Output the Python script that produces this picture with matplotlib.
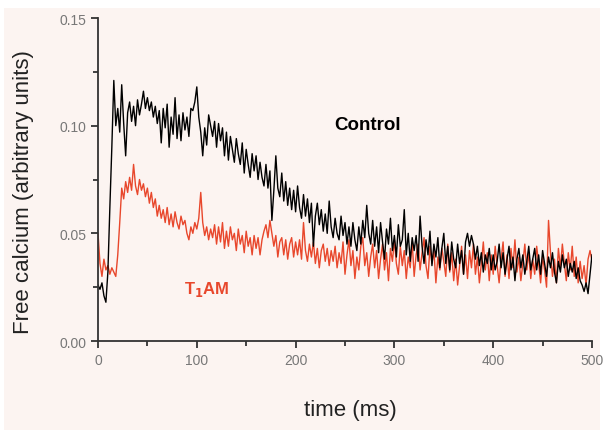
import numpy as np
import matplotlib.pyplot as plt
from matplotlib.patches import Rectangle
from matplotlib.ticker import MultipleLocator

# free calcium traces, sampled every 2 ms (values in units of 0.001)
step_ms = 2
control_milli = [
    26, 24, 27, 21, 18, 32, 62, 90, 121, 100, 108, 97, 119, 101, 86, 106, 111, 102, 109, 100,
    112, 105, 110, 116, 108, 113, 107, 111, 104, 109, 101, 107, 92, 108, 99, 110, 90, 104, 96, 113,
    94, 105, 93, 106, 98, 104, 95, 108, 107, 111, 118, 104, 97, 86, 99, 91, 105, 100, 95, 102,
    90, 101, 93, 99, 86, 97, 84, 95, 89, 83, 94, 87, 82, 92, 78, 89, 82, 76, 87, 79,
    86, 75, 83, 76, 72, 82, 71, 79, 56, 70, 86, 71, 67, 78, 65, 74, 63, 71, 61, 70,
    60, 72, 62, 57, 68, 58, 66, 55, 64, 44, 58, 64, 54, 61, 51, 59, 50, 65, 53, 48,
    57, 50, 47, 58, 49, 55, 45, 53, 44, 55, 47, 42, 53, 45, 56, 48, 63, 50, 45, 56,
    44, 53, 41, 55, 46, 38, 52, 45, 57, 42, 49, 39, 54, 44, 47, 61, 40, 50, 37, 48,
    42, 49, 37, 58, 44, 36, 47, 40, 51, 35, 45, 39, 48, 34, 43, 50, 36, 44, 33, 46,
    38, 34, 45, 36, 42, 31, 46, 50, 44, 49, 45, 38, 44, 35, 41, 32, 40, 36, 43, 33,
    40, 33, 37, 45, 34, 41, 31, 38, 44, 33, 39, 28, 38, 43, 34, 40, 31, 37, 44, 33,
    38, 43, 33, 40, 31, 42, 36, 30, 39, 34, 41, 32, 27, 37, 32, 40, 34, 38, 30, 36,
    32, 37, 29, 34, 28, 26, 23, 27, 22, 31, 40,
]
t1am_milli = [
    50, 36, 30, 38, 33, 35, 31, 34, 32, 30, 40, 55, 71, 66, 74, 69, 76, 70, 82, 72,
    68, 75, 70, 73, 67, 71, 64, 69, 62, 66, 58, 63, 57, 61, 55, 62, 54, 59, 53, 60,
    55, 52, 58, 54, 56, 50, 47, 53, 50, 55, 52, 57, 69, 55, 49, 53, 47, 52, 48, 54,
    45, 53, 46, 55, 43, 51, 44, 53, 47, 50, 42, 52, 45, 49, 41, 51, 44, 48, 40, 49,
    43, 48, 40, 47, 51, 54, 48, 56, 50, 44, 49, 39, 46, 48, 40, 47, 38, 45, 48, 39,
    46, 40, 47, 38, 55, 42, 37, 45, 39, 46, 36, 43, 34, 42, 45, 37, 43, 35, 42, 37,
    44, 34, 41, 36, 46, 31, 40, 47, 35, 42, 29, 39, 33, 44, 48, 35, 41, 30, 39, 45,
    34, 42, 29, 38, 45, 33, 41, 28, 43, 37, 47, 36, 31, 44, 35, 42, 29, 39, 34, 46,
    30, 40, 45, 33, 41, 48, 35, 29, 44, 36, 42, 27, 39, 33, 43, 37, 30, 45, 32, 41,
    28, 38, 26, 35, 44, 31, 40, 29, 42, 34, 45, 31, 39, 27, 36, 46, 33, 41, 28, 40,
    31, 44, 35, 27, 38, 46, 30, 40, 29, 43, 34, 47, 32, 39, 28, 36, 45, 33, 41, 29,
    38, 31, 44, 36, 27, 39, 33, 25, 56, 41, 30, 38, 27, 43, 34, 45, 36, 28, 41, 33,
    44, 30, 39, 27, 37, 29, 35, 26, 38, 42, 37,
]

control = np.array(control_milli) / 1000.0
t1am = np.array(t1am_milli) / 1000.0
t_control = np.arange(len(control)) * step_ms
t_t1am = np.arange(len(t1am)) * step_ms

plt.rcParams['font.family'] = ['Liberation Sans', 'DejaVu Sans']

bg = '#fcf4f1'
red = '#e8472c'

fig = plt.figure(figsize=(6.03, 4.31), dpi=100)
fig.patch.set_facecolor('white')
fig.patches.append(Rectangle((4 / 603, 0), 596 / 603, 422 / 431, transform=fig.transFigure,
                             facecolor=bg, edgecolor='none', zorder=-10))

ax = fig.add_axes([98 / 603, 1 - 342 / 431, 494 / 603, 323 / 431])
ax.set_facecolor('none')

ax.plot(t_t1am, t1am, color=red, linewidth=1.0)
ax.plot(t_control, control, color='black', linewidth=1.0)

ax.set_xlim(0, 500)
ax.set_ylim(0, 0.15)
ax.xaxis.set_major_locator(MultipleLocator(100))
ax.xaxis.set_minor_locator(MultipleLocator(50))
ax.yaxis.set_major_locator(MultipleLocator(0.05))
ax.yaxis.set_minor_locator(MultipleLocator(0.025))
ax.yaxis.set_major_formatter(lambda v, p: f'{v:.2f}')

for side in ('top', 'right'):
    ax.spines[side].set_visible(False)
for side in ('left', 'bottom'):
    ax.spines[side].set_color('#333333')
    ax.spines[side].set_linewidth(1.3)

ax.tick_params(which='major', direction='out', length=5, width=1.3, color='#333333',
               labelsize=10, labelcolor='#777777')
ax.tick_params(which='minor', direction='out', length=3.5, width=1.3, color='#333333')

ax.set_xlabel('time (ms)', fontsize=16, color='#222222')
ax.xaxis.set_label_coords(0.51, -0.18)
ax.set_ylabel('Free calcium (arbitrary units)', fontsize=16, color='#222222')
ax.yaxis.set_label_coords(-0.13, 0.464)

ax.text(273, 0.1005, 'Control', fontsize=13.5, fontweight='bold', color='black',
        ha='center', va='center')
ax.text(110, 0.0246, 'T$_{\\mathbf{1}}$AM', fontsize=12, fontweight='bold', color=red,
        ha='center', va='center')

fig.savefig('out.png', dpi=100, facecolor=fig.get_facecolor())
